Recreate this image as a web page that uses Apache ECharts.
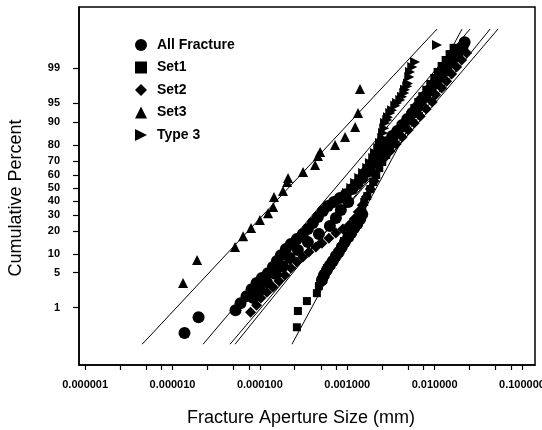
<!DOCTYPE html>
<html><head><meta charset="utf-8">
<script src="https://cdn.jsdelivr.net/npm/echarts@6/dist/echarts.min.js"></script>
<style>html,body{margin:0;padding:0;background:#fff}#c{width:542px;height:430px}</style>
</head><body><div id="c"></div>
<script>
// ---- tick labels ----
const xTickLabels = [0.000001, 0.00001, 0.0001, 0.001, 0.01, 0.1];
const xMinorTicks = [2.5e-6, 5e-6, 7.5e-6, 2.5e-5, 5e-5, 7.5e-5, 2.5e-4, 5e-4, 7.5e-4,
  2.5e-3, 5e-3, 7.5e-3, 2.5e-2, 5e-2, 7.5e-2];
const yTickLabels = [1, 5, 10, 20, 30, 40, 50, 60, 70, 80, 90, 95, 99];

// ---- series data: aperture (mm) and cumulative percent ----
const allAp = [1.372e-5,1.985e-5,5.26e-5,
  6.0e-5,7.03e-5,8.03e-5,9.16e-5,1.054e-4,1.235e-4,1.409e-4,1.566e-4,1.740e-4,1.985e-4,2.264e-4,2.652e-4,3.107e-4,3.544e-4,4.044e-4,4.613e-4,5.263e-4,6.005e-4,7.034e-4,8.239e-4,9.651e-4,1.141e-3,1.302e-3,1.485e-3,1.650e-3,1.834e-3,2.038e-3,2.264e-3,2.516e-3,
  2.871e-3,3.275e-3,3.736e-3,4.262e-3,4.863e-3,5.548e-3,6.330e-3,7.034e-3,7.816e-3,8.917e-3,9.909e-3,1.082e-2,1.235e-2,1.372e-2,1.525e-2,1.694e-2,1.883e-2,2.092e-2,2.205e-2,
  5.126e-4,5.849e-4,6.851e-4,8.025e-4,9.40e-4,1.111e-3,1.302e-3,1.485e-3,
  8.459e-5,9.909e-5,1.203e-4,1.525e-4,1.834e-4,2.205e-4,2.723e-4,3.544e-4,4.737e-4,6.330e-4,7.415e-4,8.459e-4,1.027e-3,
  5.404e-4,6.330e-4,7.415e-4,8.685e-4,1.027e-3,1.203e-3,1.409e-3];
const allPct = [0.24,0.60,0.88,
  1.26,1.78,2.47,3.23,4.0,4.9,6.24,7.78,9.61,11.76,13.8,16.06,18.54,21.25,24.8,28.6,32.7,36.3,39.3,42.3,45.3,49.2,53.1,57.7,62.2,66.6,70.7,74.6,78.2,
  81.5,84.4,86.6,89.0,91.0,92.8,94.2,95.5,96.3,97.2,97.85,98.3,98.74,99.07,99.29,99.46,99.59,99.70,99.77,
  3.67,5.53,7.78,10.66,14.66,19.08,24.2,30.6,
  1.62,2.36,3.37,4.72,6.45,8.66,11.4,14.66,18.54,23.0,28.0,33.4,39.3,
  4.52,6.7,9.3,12.55,17.0,21.8,27.3];

const set1Ap = [2.652e-4,2.723e-4,3.452e-4,4.493e-4,4.737e-4,4.993e-4,5.404e-4,5.849e-4,6.499e-4,7.222e-4,7.816e-4,8.459e-4,9.155e-4,1.0e-3,1.082e-3,1.203e-3,1.302e-3,1.409e-3,1.485e-3,1.566e-3,1.694e-3,1.834e-3,1.985e-3,2.148e-3,2.325e-3,2.516e-3,2.796e-3,3.107e-3,3.452e-3,3.836e-3,4.262e-3,4.737e-3,5.263e-3,5.849e-3,6.499e-3,7.222e-3,8.025e-3,8.917e-3,9.909e-3,1.082e-2,1.203e-2,1.337e-2,1.485e-2,1.650e-2];
const set1Pct = [0.34,0.84,1.40,2.05,2.83,3.67,4.72,5.98,7.22,8.66,10.3,12.55,15.1,17.5,20.1,23.0,26.0,30.6,34.9,39.3,43.8,49.2,54.7,60.0,65.1,69.4,74.0,78.2,82.0,85.3,87.8,90.4,92.2,94.0,95.3,96.3,97.2,97.85,98.38,98.80,99.12,99.36,99.54,99.68];

const set2Ap = [7.816e-5,9.155e-5,1.027e-4,1.203e-4,1.409e-4,1.650e-4,1.933e-4,2.264e-4,2.652e-4,3.107e-4,3.639e-4,4.376e-4,5.126e-4,6.165e-4,7.415e-4,8.917e-4,1.054e-3,1.203e-3,1.337e-3,1.485e-3,1.650e-3,1.834e-3,2.038e-3,
  1.933e-3,2.264e-3,2.652e-3,3.107e-3,3.639e-3,4.262e-3,4.993e-3,5.849e-3,6.851e-3,8.025e-3,9.40e-3,1.027e-2,1.203e-2,1.372e-2,1.566e-2,1.786e-2,2.038e-2,2.325e-2];
const set2Pct = [0.79,1.14,1.62,2.15,2.71,3.52,4.52,5.98,7.50,8.98,10.66,12.55,14.2,16.5,19.08,21.25,23.6,27.3,32.0,37.0,43.1,49.2,55.4,
  62.2,67.3,72.0,76.4,80.4,83.9,87.0,89.7,91.9,93.8,95.3,96.5,97.4,98.1,98.67,99.07,99.36,99.57];

const set3Ap = [1.32e-5,1.91e-5,5.2e-5,6.43e-5,7.93e-5,1.0e-4,1.24e-4,1.42e-4,1.45e-4,1.84e-4,2.05e-4,2.10e-4,3.12e-4,4.28e-4,4.63e-4,4.89e-4,7.25e-4,9.44e-4,1.23e-3,1.33e-3,1.40e-3];
const set3Pct = [3.23,8.06,12.55,17.5,21.8,26.7,31.3,35.6,43.1,47.7,54.7,57.7,62.2,67.3,73.3,75.8,79.9,83.9,88.2,92.8,97.3];

const type3Ap = [9.95e-4,1.111e-3,1.23e-3,1.372e-3,1.52e-3,1.694e-3,1.82e-3,1.985e-3,2.08e-3,2.264e-3,2.37e-3,2.516e-3,2.57e-3,2.652e-3,2.71e-3,2.871e-3,2.93e-3,3.107e-3,3.26e-3,3.544e-3,3.72e-3,4.044e-3,4.24e-3,4.493e-3,4.58e-3,4.863e-3,4.96e-3,5.126e-3,5.23e-3,5.548e-3,5.97e-3,1.065e-2];
const type3Pct = [46.1,50.0,53.9,57.7,61.5,65.1,68.7,72.0,75.2,78.2,80.9,83.5,85.8,87.8,89.7,90.7,91.6,92.8,93.5,94.5,95.1,95.65,96.2,96.77,97.2,97.6,97.9,98.46,98.8,99.07,99.29,99.73];

// ---- fitted lines (aperture at the two ends, percent at the two ends) ----
const fitPct = [0.12, 99.9];
const set3FitAp = [4.5e-6, 1.065e-2];
const allFitAp = [2.24e-5, 2.54e-2];
const set2FitAp = [4.56e-5, 5.31e-2];
const type3FitAp = [5.2e-5, 4.31e-2];
const set1FitAp = [2.33e-4, 2.06e-2];

// inverse normal CDF (probability scale)
function probit(p){
  const a=[-3.969683028665376e+01,2.209460984245205e+02,-2.759285104469687e+02,1.383577518672690e+02,-3.066479806614716e+01,2.506628277459239e+00];
  const b=[-5.447609879822406e+01,1.615858368580409e+02,-1.556989798598866e+02,6.680131188771972e+01,-1.328068155288572e+01];
  const c=[-7.784894002430293e-03,-3.223964580411365e-01,-2.400758277161838e+00,-2.549732539343734e+00,4.374664141464968e+00,2.938163982698783e+00];
  const d=[7.784695709041462e-03,3.224671290700398e-01,2.445134137142996e+00,3.754408661907416e+00];
  const pl=0.02425, ph=1-pl; let q,r;
  if(p<pl){q=Math.sqrt(-2*Math.log(p));return (((((c[0]*q+c[1])*q+c[2])*q+c[3])*q+c[4])*q+c[5])/((((d[0]*q+d[1])*q+d[2])*q+d[3])*q+1);}
  if(p<=ph){q=p-0.5;r=q*q;return (((((a[0]*r+a[1])*r+a[2])*r+a[3])*r+a[4])*r+a[5])*q/(((((b[0]*r+b[1])*r+b[2])*r+b[3])*r+b[4])*r+1);}
  q=Math.sqrt(-2*Math.log(1-p));return -(((((c[0]*q+c[1])*q+c[2])*q+c[3])*q+c[4])*q+c[5])/((((d[0]*q+d[1])*q+d[2])*q+d[3])*q+1);
}
const pz = p => probit(p/100);
const pts = (ap, pct) => ap.map((v,i) => [v, pz(pct[i])]);

const FONT = '"Liberation Sans", Arial, sans-serif';
const chart = echarts.init(document.getElementById('c'), null, {renderer:'canvas'});

const scatter = (name, ap, pct, symbol, size) => ({
  name, type:'scatter', data: pts(ap,pct), symbol, symbolSize:size,
  itemStyle:{color:'#000', opacity:1}, z:3, silent:true
});
const fit = (ap) => ({
  type:'line', data: pts(ap, fitPct), symbol:'none', silent:true,
  lineStyle:{color:'#000', width:1}, z:2
});
const RTRI = 'path://M0,0L10,5L0,10Z';

chart.setOption({
  animation:false,
  backgroundColor:'#fff',
  grid:{left:79, right:7, top:7, bottom:65, outerBoundsMode:'none', containLabel:false,
    show:true, borderColor:'#000', borderWidth:1.5, backgroundColor:'transparent'},
  legend:{
    orient:'vertical', left:130, top:33, itemGap:8.5, itemWidth:12, itemHeight:12,
    textStyle:{fontFamily:FONT, fontSize:14, fontWeight:'bold', color:'#000', lineHeight:14, padding:[0,0,0,5]},
    data:['All Fracture','Set1','Set2','Set3','Type 3'],
    selectedMode:false
  },
  xAxis:{
    type:'log', logBase:10, min:8.5e-7, max:0.141,
    axisLine:{show:true, onZero:false, lineStyle:{color:'#000', width:1.5}},
    axisTick:{show:true, inside:false, length:5, lineStyle:{color:'#000', width:1.2},
      customValues: xTickLabels.concat(xMinorTicks)},
    axisLabel:{customValues: xTickLabels, margin:14, color:'#000', fontFamily:FONT, fontSize:11, fontWeight:'bold',
      hideOverlap:false, formatter: v => Number(v).toFixed(6)},
    splitLine:{show:false}, minorTick:{show:false}
  },
  yAxis:{
    type:'value', min:-3.44, max:3.52,
    axisLine:{show:true, onZero:false, lineStyle:{color:'#000', width:1.5}},
    axisTick:{show:true, inside:false, length:6, lineStyle:{color:'#000', width:1.2},
      customValues: yTickLabels.map(pz)},
    axisLabel:{customValues: yTickLabels.map(pz), margin:19, color:'#000', fontFamily:FONT, fontSize:11, fontWeight:'bold',
      formatter: v => { const f = yTickLabels.find(p => Math.abs(pz(p)-v) < 1e-6); return f === undefined ? '' : String(f); }},
    splitLine:{show:false}
  },
  graphic:[
    {type:'text', x:16, y:198, rotation:Math.PI/2,
      style:{text:'Cumulative Percent', fill:'#000', font:'18px '+FONT, textAlign:'center', textVerticalAlign:'middle'}},
    {type:'text', x:301, y:418,
      style:{text:'Fracture Aperture Size (mm)', fill:'#000', font:'18px '+FONT, textAlign:'center', textVerticalAlign:'middle'}}
  ],
  series:[
    fit(set3FitAp), fit(allFitAp), fit(set2FitAp), fit(type3FitAp), fit(set1FitAp),
    scatter('All Fracture', allAp, allPct, 'circle', 12),
    scatter('Set1', set1Ap, set1Pct, 'rect', 8),
    scatter('Set2', set2Ap, set2Pct, 'diamond', 11),
    scatter('Set3', set3Ap, set3Pct, 'triangle', 10),
    scatter('Type 3', type3Ap, type3Pct, RTRI, 10)
  ]
});
</script></body></html>
